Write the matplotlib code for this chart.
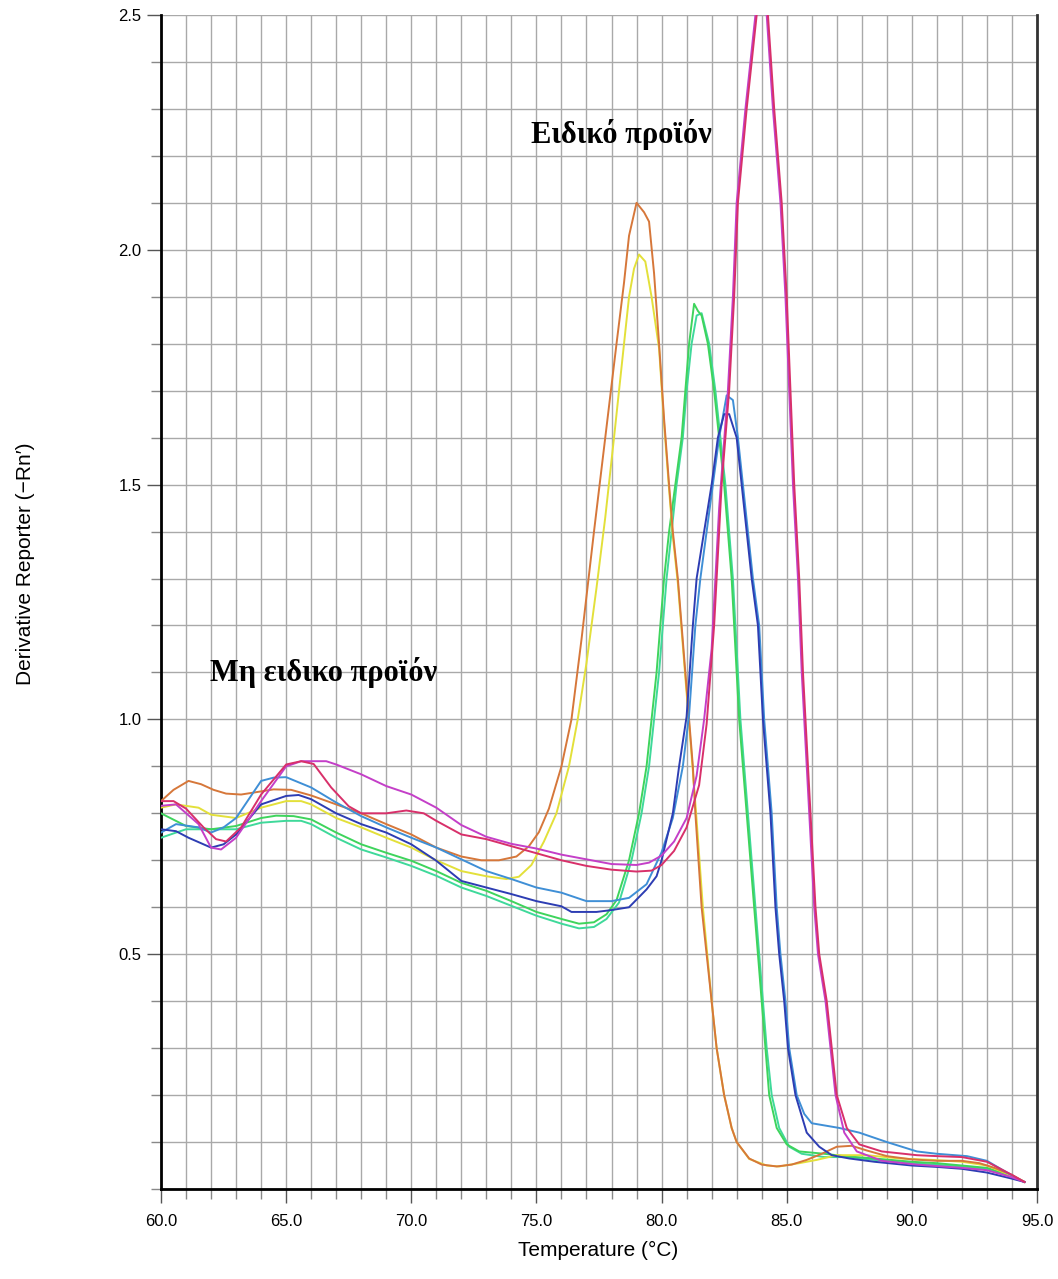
import matplotlib
matplotlib.use('Agg')
import matplotlib.pyplot as plt
from matplotlib.ticker import MultipleLocator, FormatStrFormatter

# Curvas de melting (derivada) - temperaturas e valores de cada amostra
temp_laranja = [60.0, 60.5, 61.1, 61.6, 62.1, 62.6, 63.2, 63.8, 64.5, 65.2, 66.0, 67.0, 68.0, 69.0, 70.0,
                71.0, 72.0, 72.8, 73.5, 74.2, 74.7, 75.1, 75.5, 76.0, 76.4, 76.8, 77.3, 77.75, 78.2,
                78.5, 78.7, 79.0, 79.3, 79.5, 79.7, 79.9, 80.1, 80.3, 80.45, 80.65, 80.8, 80.95, 81.1,
                81.25, 81.35, 81.6, 82.0, 82.2, 82.5, 82.8, 83.0, 83.5, 84.0, 84.6, 85.2, 85.8, 86.4,
                87.0, 87.6, 88.2, 89.0, 90.0, 91.0, 92.0, 92.7, 93.3, 94.0, 94.5]
val_laranja = [0.826, 0.850, 0.869, 0.862, 0.850, 0.842, 0.840, 0.845, 0.851, 0.850, 0.838, 0.819, 0.800,
               0.777, 0.755, 0.727, 0.708, 0.700, 0.700, 0.708, 0.730, 0.760, 0.810, 0.900, 1.000, 1.170,
               1.400, 1.600, 1.800, 1.930, 2.030, 2.100, 2.080, 2.060, 1.950, 1.800, 1.640, 1.500,
               1.400, 1.300, 1.200, 1.100, 1.000, 0.900, 0.800, 0.600, 0.400, 0.300, 0.200, 0.130, 0.100,
               0.065, 0.052, 0.048, 0.052, 0.062, 0.075, 0.090, 0.092, 0.082, 0.070, 0.063, 0.060, 0.060,
               0.055, 0.045, 0.030, 0.015]

temp_amarelo = [60.0, 60.6, 61.5, 62.0, 63.0, 64.0, 65.0, 65.6, 66.0, 67.0, 68.0, 69.0, 70.0, 71.0, 72.0,
                73.0, 73.8, 74.3, 74.8, 75.3, 75.8, 76.3, 76.65, 77.0, 77.4, 77.75, 78.1, 78.5, 78.7, 78.9,
                79.1, 79.35, 79.6, 79.9, 80.1, 80.3, 80.45, 80.65, 80.8, 80.95, 81.1, 81.25, 81.38, 81.65,
                82.0, 82.2, 82.5, 82.8, 83.0, 83.5, 84.2, 84.7, 85.5, 86.2, 87.0, 88.2, 89.5, 90.8, 92.0,
                93.0, 94.0, 94.5]
val_amarelo = [0.812, 0.819, 0.812, 0.797, 0.790, 0.812, 0.826, 0.826, 0.819, 0.790, 0.770, 0.748, 0.727,
               0.700, 0.677, 0.666, 0.660, 0.665, 0.690, 0.740, 0.800, 0.900, 1.000, 1.120, 1.280, 1.430,
               1.600, 1.800, 1.900, 1.960, 1.990, 1.975, 1.900, 1.790, 1.630, 1.490, 1.390, 1.290, 1.190,
               1.090, 0.990, 0.890, 0.800, 0.600, 0.400, 0.300, 0.200, 0.130, 0.100, 0.064, 0.050, 0.048,
               0.055, 0.062, 0.072, 0.072, 0.065, 0.062, 0.058, 0.050, 0.028, 0.015]

temp_verde1 = [60.0, 61.0, 62.0, 63.0, 64.0, 64.6, 65.3, 66.0, 67.0, 68.0, 69.0, 70.0, 71.0, 72.0, 73.0,
               74.0, 75.0, 76.0, 76.7, 77.3, 77.8, 78.2, 78.7, 79.1, 79.4, 79.6, 79.8, 79.95, 80.1, 80.3,
               80.55, 80.8, 80.95, 81.1, 81.3, 81.45, 81.6, 81.85, 82.1, 82.3, 82.5, 82.65, 82.8, 82.9,
               83.0, 83.1, 83.25, 83.4, 83.55, 83.7, 83.85, 84.0, 84.15, 84.3, 84.6, 85.0, 85.5, 86.5,
               87.3, 88.5, 90.0, 91.0, 92.0, 93.0, 94.0, 94.5]
val_verde1 = [0.800, 0.773, 0.766, 0.773, 0.790, 0.795, 0.794, 0.787, 0.759, 0.734, 0.716, 0.699, 0.677,
              0.652, 0.635, 0.613, 0.590, 0.575, 0.565, 0.568, 0.585, 0.615, 0.700, 0.800, 0.900, 1.000,
              1.100, 1.200, 1.300, 1.400, 1.500, 1.600, 1.700, 1.800, 1.885, 1.870, 1.860, 1.800, 1.700,
              1.600, 1.500, 1.400, 1.300, 1.200, 1.100, 1.000, 0.900, 0.800, 0.700, 0.600, 0.500, 0.400,
              0.300, 0.200, 0.130, 0.095, 0.080, 0.075, 0.070, 0.065, 0.058, 0.055, 0.050, 0.045, 0.028,
              0.015]

temp_verde2 = [60.0, 60.6, 61.0, 62.0, 63.0, 64.0, 65.0, 65.6, 66.0, 67.0, 68.0, 69.0, 70.0, 71.0, 72.0,
               73.0, 74.0, 75.0, 76.0, 76.7, 77.3, 77.8, 78.3, 78.8, 79.2, 79.5, 79.7, 79.9, 80.05, 80.2,
               80.4, 80.6, 80.85, 81.0, 81.2, 81.4, 81.6, 81.9, 82.15, 82.35, 82.55, 82.7, 82.85, 82.95,
               83.05, 83.15, 83.3, 83.45, 83.6, 83.75, 83.9, 84.05, 84.2, 84.4, 84.7, 85.1, 85.6, 86.5,
               87.5, 88.5, 90.0, 92.0, 93.0, 94.0, 94.5]
val_verde2 = [0.748, 0.759, 0.766, 0.766, 0.766, 0.780, 0.784, 0.784, 0.777, 0.748, 0.723, 0.706, 0.688,
              0.667, 0.642, 0.624, 0.603, 0.582, 0.565, 0.555, 0.558, 0.575, 0.610, 0.700, 0.800, 0.900,
              1.000, 1.100, 1.200, 1.300, 1.400, 1.500, 1.600, 1.700, 1.800, 1.860, 1.865, 1.800, 1.700,
              1.600, 1.500, 1.400, 1.300, 1.200, 1.100, 1.000, 0.900, 0.800, 0.700, 0.600, 0.500, 0.400,
              0.300, 0.200, 0.130, 0.090, 0.075, 0.068, 0.068, 0.062, 0.055, 0.048, 0.042, 0.026, 0.015]

temp_azul = [60.0, 60.6, 61.1, 62.0, 62.5, 63.0, 64.0, 65.0, 65.5, 66.0, 67.0, 68.0, 69.0, 70.0, 71.0,
             72.0, 73.0, 74.0, 75.0, 76.0, 76.4, 77.4, 78.0, 78.7, 79.4, 79.8, 80.0, 80.45, 80.7, 81.0,
             81.25, 81.4, 81.7, 82.0, 82.25, 82.5, 82.7, 83.0, 83.2, 83.4, 83.6, 83.85, 83.95, 84.05,
             84.2, 84.35, 84.45, 84.55, 84.7, 84.9, 85.05, 85.35, 85.8, 86.3, 86.8, 87.5, 88.5, 90.0,
             91.0, 92.0, 93.0, 94.0, 94.5]
val_azul = [0.766, 0.762, 0.748, 0.727, 0.734, 0.755, 0.819, 0.837, 0.839, 0.830, 0.800, 0.777, 0.759,
            0.734, 0.699, 0.656, 0.642, 0.628, 0.613, 0.602, 0.590, 0.590, 0.594, 0.600, 0.638, 0.666,
            0.700, 0.800, 0.900, 1.006, 1.200, 1.300, 1.400, 1.500, 1.600, 1.650, 1.650, 1.600, 1.500,
            1.400, 1.300, 1.200, 1.100, 1.000, 0.900, 0.800, 0.700, 0.600, 0.500, 0.400, 0.300, 0.200,
            0.120, 0.090, 0.072, 0.065, 0.058, 0.050, 0.047, 0.043, 0.035, 0.022, 0.015]

temp_azul_claro = [60.0, 60.6, 61.5, 62.0, 62.5, 63.0, 64.0, 64.5, 65.0, 66.0, 67.0, 68.0, 69.0, 70.0,
                   71.0, 72.0, 73.0, 74.0, 75.0, 76.0, 77.0, 78.0, 78.7, 79.4, 80.0, 80.45, 80.85, 81.1,
                   81.35, 81.55, 81.8, 82.05, 82.3, 82.6, 82.85, 83.05, 83.25, 83.45, 83.65, 83.9, 84.0,
                   84.1, 84.25, 84.4, 84.5, 84.6, 84.75, 84.95, 85.1, 85.4, 85.7, 86.0, 87.1, 87.9, 89.0,
                   90.2, 91.0, 92.2, 93.0, 93.8, 94.4]
val_azul_claro = [0.759, 0.777, 0.770, 0.759, 0.770, 0.790, 0.869, 0.876, 0.877, 0.855, 0.823, 0.794,
                  0.770, 0.748, 0.727, 0.702, 0.677, 0.660, 0.642, 0.631, 0.613, 0.613, 0.620, 0.649,
                  0.717, 0.790, 0.900, 1.010, 1.200, 1.300, 1.400, 1.500, 1.600, 1.690, 1.680, 1.600,
                  1.500, 1.400, 1.300, 1.200, 1.100, 1.000, 0.900, 0.800, 0.700, 0.600, 0.500, 0.400,
                  0.300, 0.200, 0.160, 0.140, 0.130, 0.120, 0.100, 0.080, 0.075, 0.070, 0.060, 0.035,
                  0.017]

temp_vermelho = [60.0, 60.5, 61.0, 61.7, 62.2, 62.6, 63.2, 64.0, 65.0, 65.6, 66.1, 66.8, 67.5, 68.0, 69.0,
                 69.8, 70.5, 71.0, 72.0, 73.0, 74.0, 75.0, 76.0, 77.0, 78.0, 79.0, 79.6, 80.0, 80.5, 81.0,
                 81.5, 81.8, 82.1, 82.4, 82.7, 82.9, 83.05, 83.4, 83.8, 84.0, 84.25, 84.5, 84.8, 85.0,
                 85.15, 85.3, 85.5, 85.65, 85.85, 86.0, 86.15, 86.3, 86.6, 86.8, 87.0, 87.4, 87.9, 88.8,
                 90.2, 91.0, 92.0, 93.0, 94.0, 94.5]
val_vermelho = [0.826, 0.826, 0.810, 0.770, 0.745, 0.740, 0.770, 0.840, 0.904, 0.911, 0.905, 0.855, 0.815,
                0.800, 0.800, 0.806, 0.800, 0.784, 0.755, 0.745, 0.730, 0.715, 0.700, 0.688, 0.680, 0.676,
                0.678, 0.690, 0.720, 0.770, 0.860, 0.990, 1.200, 1.500, 1.700, 1.900, 2.100, 2.300, 2.500,
                2.560, 2.500, 2.300, 2.100, 1.900, 1.700, 1.500, 1.300, 1.100, 0.900, 0.750, 0.600, 0.500,
                0.400, 0.300, 0.200, 0.130, 0.095, 0.080, 0.072, 0.070, 0.068, 0.058, 0.030, 0.015]

temp_roxo = [60.0, 60.6, 61.5, 62.0, 62.4, 63.0, 64.0, 65.0, 65.6, 66.6, 67.0, 68.0, 69.0, 70.0, 71.0,
             72.0, 73.0, 74.0, 75.0, 76.0, 77.0, 78.0, 79.0, 79.5, 80.0, 80.5, 81.0, 81.4, 81.7, 82.0,
             82.3, 82.65, 82.85, 83.0, 83.35, 83.75, 83.95, 84.2, 84.45, 84.75, 84.95, 85.1, 85.25,
             85.45, 85.6, 85.8, 85.95, 86.1, 86.25, 86.55, 86.75, 86.95, 87.3, 87.8, 88.8, 90.2, 92.0,
             93.0, 94.0, 94.5]
val_roxo = [0.816, 0.819, 0.777, 0.727, 0.723, 0.748, 0.826, 0.900, 0.911, 0.911, 0.904, 0.883, 0.858,
            0.840, 0.812, 0.775, 0.750, 0.735, 0.725, 0.712, 0.702, 0.692, 0.690, 0.695, 0.710, 0.740,
            0.790, 0.880, 1.000, 1.150, 1.450, 1.700, 1.900, 2.100, 2.300, 2.500, 2.570, 2.500, 2.300,
            2.100, 1.900, 1.700, 1.500, 1.300, 1.100, 0.900, 0.750, 0.600, 0.500, 0.400, 0.300, 0.200,
            0.120, 0.080, 0.060, 0.052, 0.045, 0.040, 0.025, 0.015]

curvas = [
    (temp_verde2, val_verde2, '#3fd99a'),
    (temp_verde1, val_verde1, '#3ed45c'),
    (temp_amarelo, val_amarelo, '#e3e03a'),
    (temp_laranja, val_laranja, '#d6773a'),
    (temp_azul_claro, val_azul_claro, '#3f8fd6'),
    (temp_azul, val_azul, '#2d3db3'),
    (temp_roxo, val_roxo, '#c43fc8'),
    (temp_vermelho, val_vermelho, '#d8306a'),
]

plt.rcParams['font.family'] = 'Liberation Sans'

fig = plt.figure(figsize=(10.58, 12.79), dpi=100)
ax = fig.add_axes([161 / 1058, 1 - 1189 / 1279, (1037 - 161) / 1058, (1189 - 15) / 1279])

for t, v, cor in curvas:
    ax.plot(t, v, color=cor, lw=1.4, zorder=3)

ax.set_xlim(60, 95)
ax.set_ylim(0, 2.5)
ax.xaxis.set_major_locator(MultipleLocator(5))
ax.xaxis.set_minor_locator(MultipleLocator(1))
ax.yaxis.set_major_locator(MultipleLocator(0.5))
ax.yaxis.set_minor_locator(MultipleLocator(0.1))
ax.xaxis.set_major_formatter(FormatStrFormatter('%.1f'))
ax.yaxis.set_major_formatter(FormatStrFormatter('%.1f'))
ax.grid(True, which='both', color='#a9a9a9', lw=1.0, zorder=0)
ax.set_axisbelow(True)

# eixo y sem o rotulo do zero
ax.set_yticks([0.5, 1.0, 1.5, 2.0, 2.5])

ax.tick_params(axis='both', which='major', labelsize=12, colors='#555555', labelcolor='black',
               length=10, width=1, direction='out')
ax.tick_params(axis='both', which='minor', colors='#888888', length=7, width=1, direction='out')
ax.tick_params(axis='x', which='major', pad=8)
ax.tick_params(axis='y', which='major', pad=4)

ax.spines['top'].set_visible(False)
ax.spines['left'].set_linewidth(2)
ax.spines['bottom'].set_linewidth(2)
ax.spines['right'].set_linewidth(2)
ax.spines['right'].set_color('#333333')

ax.set_xlabel('Temperature (°C)', fontsize=15, va='center')
ax.xaxis.set_label_coords(0.499, -0.052)
ax.set_ylabel("Derivative Reporter (\u2212Rn\u2032)", fontsize=15, va='center')
ax.yaxis.set_label_coords(-0.155, 0.533)

ax.text(78.4, 2.245, 'Ειδικό προϊόν', fontsize=22, fontweight='bold', family='Liberation Serif',
        ha='center', va='center')
ax.text(66.5, 1.10, 'Μη ειδικο προϊόν', fontsize=22, fontweight='bold', family='Liberation Serif',
        ha='center', va='center')

fig.savefig('out.png', dpi=100)
